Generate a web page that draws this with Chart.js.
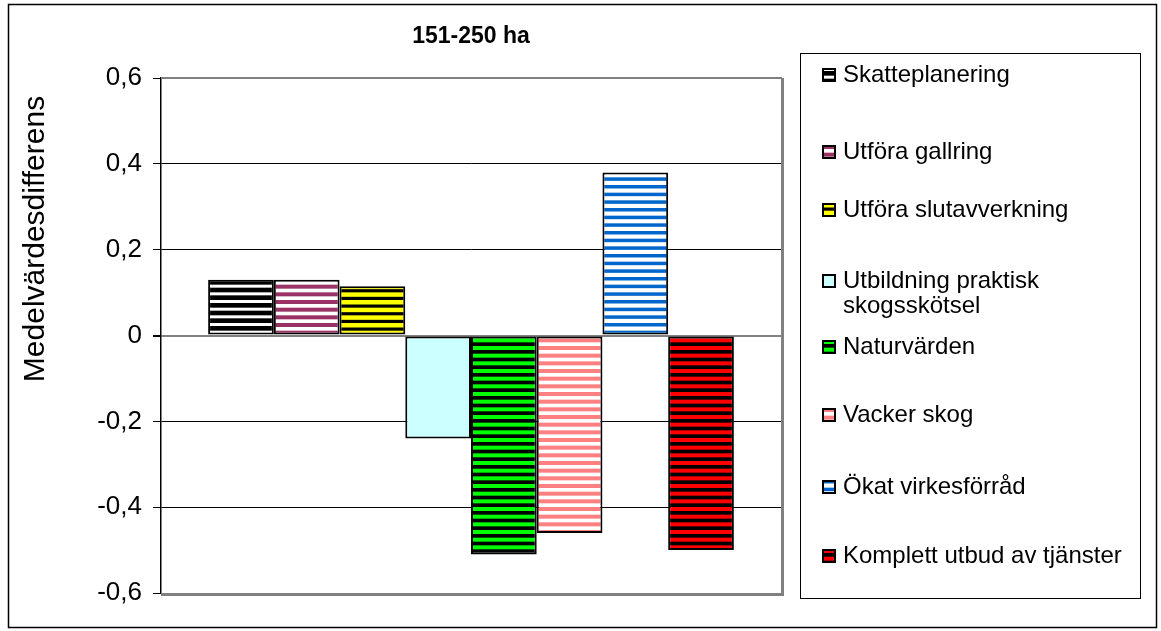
<!DOCTYPE html>
<html lang="sv">
<head>
<meta charset="utf-8">
<title>151-250 ha</title>
<script src="https://cdn.jsdelivr.net/npm/chart.js@4/dist/chart.umd.min.js"></script>
<style>
  html, body { margin: 0; padding: 0; background: #fff; }
  canvas { display: block; }
</style>
</head>
<body>
<canvas id="chart" width="1161" height="631"></canvas>
<script>
// Data
const chartTitle = '151-250 ha';
const categories = ['151-250 ha'];
const seriesNames = [
  'Skatteplanering',
  'Utföra gallring',
  'Utföra slutavverkning',
  'Utbildning praktisk skogsskötsel',
  'Naturvärden',
  'Vacker skog',
  'Ökat virkesförråd',
  'Komplett utbud av tjänster'
];
const seriesValues = [0.13, 0.13, 0.115, -0.24, -0.51, -0.46, 0.38, -0.50];
const yTickValues = [-0.6, -0.4, -0.2, 0, 0.2, 0.4, 0.6];
const yAxisTitle = 'Medelvärdesdifferens';

// Fill styles: [background, stripe colour, stripe thickness]
const fills = [
  ['#000000', '#ffffff', 3],
  ['#ffffff', '#993366', 4],
  ['#000000', '#ffff00', 4.5],
  ['#ccffff', null, 0],
  ['#000000', '#00ff00', 4],
  ['#ffffff', '#ff8080', 4],
  ['#ffffff', '#0066cc', 3.5],
  ['#000000', '#ff0000', 4]
];

const FONT = '"Liberation Sans", Arial, Helvetica, sans-serif';

function stripePattern(bg, fg, thick) {
  const c = document.createElement('canvas');
  c.width = 8; c.height = 23;
  const g = c.getContext('2d');
  g.fillStyle = bg;
  g.fillRect(0, 0, c.width, c.height);
  if (fg) {
    g.fillStyle = fg;
    [0, 7.67, 15.33].forEach(y => g.fillRect(0, y + 1, c.width, thick));
  }
  return g.createPattern(c, 'repeat');
}

const ctx0 = document.getElementById('chart').getContext('2d');
const patterns = fills.map(f => stripePattern(f[0], f[1], f[2]));

const datasets = seriesNames.map((name, i) => ({
  label: name,
  data: [seriesValues[i]],
  backgroundColor: patterns[i],
  borderColor: '#000000',
  borderWidth: 2,
  borderSkipped: false,
  categoryPercentage: 0.848,
  barPercentage: 1.0
}));

function fmtTick(v) {
  if (Math.abs(v) < 1e-9) return '0';
  return v.toFixed(1).replace('.', ',');
}

function wrapText(ctx, text, maxW) {
  const words = text.split(' ');
  const lines = [];
  let cur = '';
  words.forEach(w => {
    const t = cur ? cur + ' ' + w : w;
    if (ctx.measureText(t).width > maxW && cur) { lines.push(cur); cur = w; }
    else cur = t;
  });
  if (cur) lines.push(cur);
  return lines;
}

// Frame, plot border, title, axis title and legend
const legendRowY = [75, 152, 210, 281, 347, 415, 487, 556];
const decor = {
  id: 'decor',
  beforeDraw(chart) {
    const c = chart.ctx;
    c.save();
    c.fillStyle = '#ffffff';
    c.fillRect(0, 0, chart.width, chart.height);
    c.restore();
  },
  beforeDatasetsDraw(chart) {
    const c = chart.ctx, a = chart.chartArea;
    c.save();
    c.strokeStyle = '#808080';
    c.lineWidth = 2;
    c.beginPath();
    c.moveTo(a.left, a.top);
    c.lineTo(a.right + 1, a.top);
    c.stroke();
    c.lineWidth = 3;
    c.beginPath();
    c.moveTo(a.right + 1.5, a.top);
    c.lineTo(a.right + 1.5, a.bottom + 1.5);
    c.lineTo(a.left, a.bottom + 1.5);
    c.stroke();
    c.restore();
  },
  afterDraw(chart) {
    const c = chart.ctx, a = chart.chartArea;
    c.save();
    // outer frame
    c.strokeStyle = '#000000';
    c.lineWidth = 1.5;
    c.strokeRect(8.5, 4.5, 1148, 623);

    // title
    c.fillStyle = '#000000';
    c.font = 'bold 23px ' + FONT;
    c.textAlign = 'center';
    c.textBaseline = 'middle';
    c.fillText(chartTitle, (a.left + a.right) / 2, 37);

    // y axis title
    c.save();
    c.translate(36, 239);
    c.rotate(-Math.PI / 2);
    c.font = '30px ' + FONT;
    c.fillText(yAxisTitle, 0, 0);
    c.restore();

    // legend box
    c.lineWidth = 1;
    c.strokeStyle = '#000000';
    c.strokeRect(800.5, 53.5, 340, 545);
    c.font = '24px ' + FONT;
    c.textAlign = 'left';
    c.textBaseline = 'middle';
    chart.data.datasets.forEach((ds, i) => {
      const y = legendRowY[i];
      const mx = 822, my = Math.round(y - 7);
      c.save();
      c.translate(mx, my - 1);
      c.fillStyle = ds.backgroundColor;
      c.fillRect(0, 1, 14, 14);
      c.restore();
      c.lineWidth = 2;
      c.strokeStyle = '#000000';
      c.strokeRect(mx + 1, my + 1, 12, 12);
      c.fillStyle = '#000000';
      const lines = wrapText(c, ds.label, 290);
      lines.forEach((ln, k) => c.fillText(ln, 843, y + k * 25));
    });
    c.restore();
  }
};

new Chart(ctx0, {
  type: 'bar',
  data: { labels: categories, datasets },
  options: {
    responsive: false,
    animation: false,
    devicePixelRatio: 1,
    layout: { padding: { left: 0, top: 78, right: 380, bottom: 38 } },
    plugins: {
      legend: { display: false },
      title: { display: false },
      tooltip: { enabled: false }
    },
    scales: {
      x: { display: false },
      y: {
        min: -0.6,
        max: 0.6,
        afterFit(scale) { scale.width = 161; },
        afterBuildTicks(scale) { scale.ticks = yTickValues.map(v => ({ value: v })); },
        ticks: {
          callback: v => fmtTick(v),
          color: '#000000',
          padding: 11,
          font: { family: FONT, size: 26 }
        },
        border: { display: true, color: '#000000', width: 1.5 },
        grid: {
          drawTicks: true,
          tickLength: 8,
          tickColor: '#000000',
          color: c => {
            const v = c.tick && c.tick.value;
            if (v === 0) return '#808080';
            if (Math.abs(Math.abs(v) - 0.6) < 1e-9) return 'rgba(0,0,0,0)';
            return '#000000';
          },
          lineWidth: c => (c.tick && c.tick.value === 0 ? 2 : 1)
        }
      }
    }
  },
  plugins: [decor]
});
</script>
</body>
</html>
